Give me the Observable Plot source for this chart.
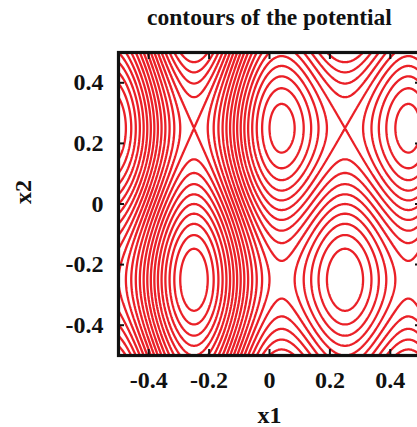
<!DOCTYPE html>
<html><head><meta charset="utf-8">
<script src="https://cdn.jsdelivr.net/npm/d3@7"></script>
<script src="https://cdn.jsdelivr.net/npm/@observablehq/plot@0.6"></script>
<style>html,body{margin:0;padding:0;overflow:hidden;background:#fff}</style>
</head><body><div id="chart"></div>
<script>
const titleText = "contours of the potential";
const xLabel = "x1";
const yLabel = "x2";
const xTicks = [-0.4, -0.2, 0, 0.2, 0.4];
const yTicks = [-0.4, -0.2, 0, 0.2, 0.4];
const domainX = [-0.5, 0.5];
const domainY = [-0.5, 0.5];
const levels = [-2.8, -2.6, -2.4, -2.2, -2.0, -1.8, -1.6, -1.4, -1.2, -1.0, -0.8, -0.6, -0.4, -0.2, 0, 0.2, 0.4, 0.6, 0.8, 1.0, 1.2, 1.4, 1.6, 1.8, 2.0];
// potential V = A0 cos(2π f0 x1) + A1 sin(2π f1 x1) + A2 sin(2π f2 x2)
const amplitudes = [1, 1, 1];
const frequencies = [2, 1, 1];
const potential = (x1, x2) =>
  amplitudes[0] * Math.cos(2 * Math.PI * frequencies[0] * x1) +
  amplitudes[1] * Math.sin(2 * Math.PI * frequencies[1] * x1) +
  amplitudes[2] * Math.sin(2 * Math.PI * frequencies[2] * x2);

const font = "'Liberation Serif', 'Times New Roman', serif";
const red = "#ea2027";
const fmt = d => String(d);

const chart = Plot.plot({
  width: 422, height: 427,
  marginLeft: 118, marginRight: 2, marginTop: 52, marginBottom: 72,
  style: {fontFamily: font, fontWeight: "bold", fontSize: "24px", background: "white", maxWidth: "none", color: "#111"},
  x: {domain: domainX},
  y: {domain: domainY},
  marks: [
    Plot.contour({x1: domainX[0], x2: domainX[1], y1: domainY[0], y2: domainY[1],
      value: potential, thresholds: levels, fill: "none", stroke: red, strokeWidth: 2.3, pixelSize: 1}),
    Plot.frame({stroke: "#111", strokeWidth: 3.2}),
    Plot.axisX(xTicks, {anchor: "bottom", tickSize: 0, tickPadding: 15, tickFormat: fmt, label: null, fontSize: 24, fontWeight: "bold"}),
    Plot.axisX(xTicks, {anchor: "bottom", tickSize: -6, tickFormat: () => "", label: null, strokeWidth: 2}),
    Plot.axisX(xTicks, {anchor: "top", tickSize: -6, tickFormat: () => "", label: null, strokeWidth: 2}),
    Plot.axisY(yTicks, {anchor: "left", tickSize: 0, tickPadding: 15, tickFormat: fmt, label: null, fontSize: 24, fontWeight: "bold"}),
    Plot.axisY(yTicks, {anchor: "left", tickSize: -6, tickFormat: () => "", label: null, strokeWidth: 2}),
    Plot.axisY(yTicks, {anchor: "right", tickSize: -6, tickFormat: () => "", label: null, strokeWidth: 2}),
    Plot.text([titleText], {frameAnchor: "top", dy: -28, lineAnchor: "bottom", fontSize: 23.5, fontWeight: "bold"}),
    Plot.text([xLabel], {frameAnchor: "bottom", dy: 67, lineAnchor: "bottom", fontSize: 24, fontWeight: "bold"}),
    Plot.text([yLabel], {frameAnchor: "left", dx: -88, rotate: -90, lineAnchor: "bottom", fontSize: 24, fontWeight: "bold"})
  ]
});
document.getElementById("chart").append(chart);
</script>
</body></html>
